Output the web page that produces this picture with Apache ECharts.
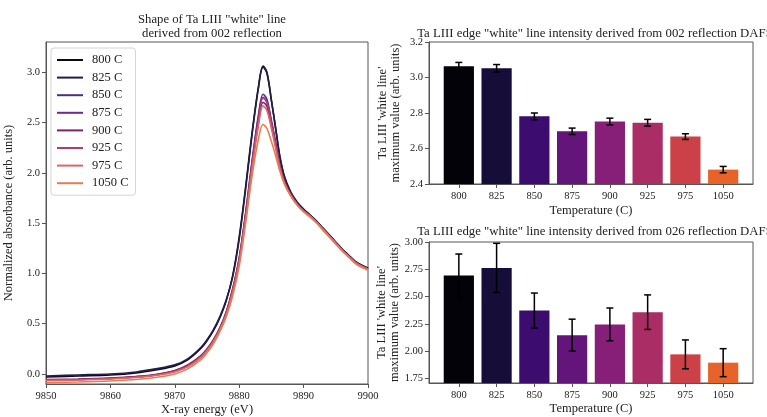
<!DOCTYPE html>
<html>
<head>
<meta charset="utf-8">
<script src="https://cdn.jsdelivr.net/npm/echarts@6/dist/echarts.min.js"></script>
<style>html,body{margin:0;padding:0;background:#fff;}#c{width:767px;height:417px;}</style>
</head>
<body>
<div id="c"></div>
<script>
// ---------- data ----------
const energy = [9850, 9855, 9860, 9864, 9867, 9870, 9872, 9874, 9875, 9876, 9877, 9878, 9879, 9880, 9881, 9882, 9883, 9883.7, 9884.3, 9885, 9885.7, 9886.3, 9887, 9888, 9889, 9890, 9891, 9892, 9893, 9894, 9895, 9896, 9897, 9898, 9899, 9900];
const abs800  = [-0.03,-0.02,-0.01,0.01,0.04,0.08,0.14,0.25,0.33,0.43,0.56,0.73,0.98,1.36,1.86,2.40,2.86,3.06,3.00,2.72,2.42,2.16,1.96,1.80,1.70,1.63,1.58,1.52,1.45,1.38,1.31,1.24,1.18,1.12,1.08,1.05];
const abs825  = [-0.02,-0.01,0.00,0.02,0.05,0.09,0.15,0.26,0.34,0.44,0.57,0.74,0.97,1.34,1.84,2.38,2.85,3.05,2.99,2.72,2.43,2.17,1.97,1.81,1.71,1.64,1.58,1.52,1.45,1.38,1.31,1.24,1.18,1.12,1.08,1.05];
const abs850  = [-0.06,-0.055,-0.045,-0.03,-0.01,0.03,0.08,0.17,0.24,0.33,0.45,0.61,0.84,1.15,1.60,2.12,2.58,2.78,2.73,2.52,2.29,2.08,1.92,1.78,1.69,1.62,1.57,1.51,1.44,1.37,1.30,1.23,1.17,1.11,1.07,1.04];
const abs875  = [-0.06,-0.055,-0.045,-0.03,-0.01,0.03,0.08,0.17,0.24,0.33,0.45,0.60,0.83,1.13,1.57,2.07,2.51,2.70,2.66,2.47,2.25,2.06,1.91,1.78,1.69,1.62,1.57,1.51,1.44,1.37,1.30,1.23,1.17,1.11,1.07,1.04];
const abs900  = [-0.055,-0.05,-0.04,-0.025,-0.005,0.035,0.09,0.18,0.25,0.34,0.46,0.62,0.85,1.15,1.59,2.10,2.55,2.75,2.70,2.50,2.28,2.08,1.92,1.79,1.69,1.62,1.57,1.51,1.44,1.37,1.30,1.23,1.17,1.11,1.07,1.04];
const abs925  = [-0.06,-0.055,-0.045,-0.03,-0.01,0.03,0.08,0.17,0.24,0.33,0.45,0.61,0.84,1.14,1.58,2.09,2.54,2.745,2.70,2.50,2.27,2.07,1.91,1.78,1.69,1.62,1.57,1.51,1.44,1.37,1.30,1.23,1.17,1.11,1.07,1.04];
const abs975  = [-0.065,-0.06,-0.05,-0.035,-0.015,0.02,0.07,0.16,0.23,0.32,0.44,0.59,0.81,1.11,1.54,2.04,2.47,2.665,2.62,2.44,2.23,2.05,1.90,1.77,1.68,1.62,1.57,1.51,1.44,1.37,1.30,1.23,1.17,1.11,1.07,1.04];
const abs1050 = [-0.085,-0.08,-0.07,-0.055,-0.035,0.00,0.05,0.14,0.21,0.30,0.42,0.57,0.78,1.07,1.50,1.97,2.34,2.48,2.44,2.31,2.16,2.02,1.89,1.77,1.68,1.61,1.56,1.50,1.43,1.36,1.29,1.22,1.16,1.10,1.06,1.03];

const lineNames = ['800 C','825 C','850 C','875 C','900 C','925 C','975 C','1050 C'];
const curves = [abs800, abs825, abs850, abs875, abs900, abs925, abs975, abs1050];

const temps   = ['800','825','850','875','900','925','975','1050'];
const wl002   = [3.064, 3.052, 2.781, 2.697, 2.752, 2.745, 2.667, 2.481];
const err002  = [0.021, 0.021, 0.019, 0.018, 0.019, 0.019, 0.016, 0.018];
const wl026   = [2.693, 2.763, 2.373, 2.148, 2.246, 2.358, 1.972, 1.896];
const err026  = [0.197, 0.225, 0.160, 0.146, 0.150, 0.158, 0.132, 0.128];

const xTicksLeft = [9850, 9860, 9870, 9880, 9890, 9900];
const yTicksLeft = [0.0, 0.5, 1.0, 1.5, 2.0, 2.5, 3.0];
const yTicksTop  = [2.4, 2.6, 2.8, 3.0, 3.2];
const yTicksBot  = [1.75, 2.00, 2.25, 2.50, 2.75, 3.00];

// ---------- styles ----------
const lineColors = ['#0a0814','#251d48','#4a2c8c','#6a2c8a','#7e2268','#aa4070','#d8666c','#e67d52'];
const barColors  = ['#030209','#160d38','#3c0c6e','#63157a','#871f79','#aa2e65','#cc4148','#e8632a'];
const FF = 'Liberation Serif';
const spine = '#555';
const tickIdx = temps.map((_, i) => i);

const chart = echarts.init(document.getElementById('c'), null, {renderer: 'canvas'});

function valAxis(extra) {
  return Object.assign({
    type: 'value',
    axisLine: {show: true, onZero: false, lineStyle: {color: spine, width: 1}},
    splitLine: {show: false},
    nameTextStyle: {color: '#222', fontFamily: FF, fontSize: 12.5},
    nameLocation: 'middle'
  }, extra);
}
function ticks(vals) {
  return {show: true, inside: false, length: 4, lineStyle: {color: spine}, customValues: vals};
}
function labels(vals, fmt, margin) {
  return {color: '#222', fontFamily: FF, fontSize: 10.5, margin: margin, customValues: vals, formatter: fmt};
}

const gridW = 767 - 429 - 14;
const xMinB = -0.79, xMaxB = 7.79;
const barPx = 0.8 * gridW / (xMaxB - xMinB);

function errSeries(xi, yi, vals, errs) {
  return {
    type: 'custom', xAxisIndex: xi, yAxisIndex: yi, z: 5,
    encode: {x: 0, y: 1},
    data: vals.map((v, i) => [i, v, errs[i]]),
    renderItem: function (params, api) {
      const x = api.value(0), y = api.value(1), e = api.value(2);
      const t = api.coord([x, y + e]);
      const b = api.coord([x, y - e]);
      const st = {stroke: '#000', lineWidth: 1.5};
      return {type: 'group', children: [
        {type: 'line', shape: {x1: t[0], y1: t[1], x2: b[0], y2: b[1]}, style: st},
        {type: 'line', shape: {x1: t[0] - 3.5, y1: t[1], x2: t[0] + 3.5, y2: t[1]}, style: st},
        {type: 'line', shape: {x1: b[0] - 3.5, y1: b[1], x2: b[0] + 3.5, y2: b[1]}, style: st}
      ]};
    }
  };
}

const series = [];
curves.forEach((c, k) => {
  series.push({
    name: lineNames[k], type: 'line', xAxisIndex: 0, yAxisIndex: 0,
    data: energy.map((e, i) => [e, c[i]]),
    showSymbol: false, symbol: 'none', smooth: 0.35,
    lineStyle: {color: lineColors[k], width: 1.6},
    itemStyle: {color: lineColors[k]},
    clip: true
  });
});
series.push({
  type: 'bar', xAxisIndex: 1, yAxisIndex: 1, barWidth: barPx, clip: true,
  data: wl002.map((v, i) => ({value: [i, v], itemStyle: {color: barColors[i]}}))
});
series.push(errSeries(1, 1, wl002, err002));
series.push({
  type: 'bar', xAxisIndex: 2, yAxisIndex: 2, barWidth: barPx, clip: true,
  data: wl026.map((v, i) => ({value: [i, v], itemStyle: {color: barColors[i]}}))
});
series.push(errSeries(2, 2, wl026, err026));

const titleStyle = {fontFamily: FF, fontSize: 12.7, fontWeight: 'normal', color: '#222'};
const titleStyleR = {fontFamily: FF, fontSize: 12.8, fontWeight: 'normal', color: '#222'};
const gridBase = {show: true, borderColor: spine, borderWidth: 1, backgroundColor: 'transparent', containLabel: false, outerBoundsMode: 'none'};
const option = {
  animation: false,
  backgroundColor: '#fff',
  title: [
    {text: 'Shape of Ta LIII "white" line\nderived from 002 reflection', left: 207, top: 8, textAlign: 'center',
     textStyle: Object.assign({lineHeight: 14}, titleStyle)},
    {text: 'Ta LIII edge "white" line intensity derived from 002 reflection DAFS', left: 590, top: 22, textAlign: 'center',
     textStyle: titleStyleR},
    {text: 'Ta LIII edge "white" line intensity derived from 026 reflection DAFS', left: 590, top: 220, textAlign: 'center',
     textStyle: titleStyleR}
  ],
  legend: {
    data: lineNames, orient: 'vertical', left: 51, top: 48,
    icon: 'path://M0,0 L26,0 L26,2 L0,2 Z', itemWidth: 26, itemHeight: 2, itemGap: 3.6,
    padding: [5, 7, 5, 6],
    backgroundColor: '#fff', borderColor: '#d4d4d4', borderWidth: 1, borderRadius: 3,
    textStyle: {fontFamily: FF, fontSize: 12.5, color: '#222', lineHeight: 14, padding: [0, 0, 0, 4]}
  },
  grid: [
    Object.assign({left: 46, right: 399, top: 42, bottom: 33}, gridBase),
    Object.assign({left: 429, right: 14, top: 42, bottom: 233}, gridBase),
    Object.assign({left: 429, right: 14, top: 242, bottom: 34}, gridBase)
  ],
  xAxis: [
    valAxis({gridIndex: 0, min: 9850, max: 9900, name: 'X-ray energy (eV)', nameGap: 19, nameMoveOverlap: false,
      axisTick: ticks(xTicksLeft), axisLabel: labels(xTicksLeft, v => String(v), 7)}),
    valAxis({gridIndex: 1, min: xMinB, max: xMaxB, name: 'Temperature (C)', nameGap: 20,
      axisTick: ticks(tickIdx), axisLabel: labels(tickIdx, v => temps[Math.round(v)], 7)}),
    valAxis({gridIndex: 2, min: xMinB, max: xMaxB, name: 'Temperature (C)', nameGap: 19,
      axisTick: ticks(tickIdx), axisLabel: labels(tickIdx, v => temps[Math.round(v)], 7)})
  ],
  yAxis: [
    valAxis({gridIndex: 0, min: -0.1, max: 3.3, name: 'Normalized absorbance (arb. units)', nameGap: 31,
      axisTick: ticks(yTicksLeft), axisLabel: labels(yTicksLeft, v => v.toFixed(1), 6)}),
    valAxis({gridIndex: 1, min: 2.4, max: 3.2, name: "Ta LIII 'white line'\nmaximum value (arb. units)", nameGap: 27,
      nameTextStyle: {color: '#222', fontFamily: FF, fontSize: 12.5, lineHeight: 13},
      axisTick: ticks(yTicksTop), axisLabel: labels(yTicksTop, v => v.toFixed(1), 6)}),
    valAxis({gridIndex: 2, min: 1.71, max: 3.0, name: "Ta LIII 'white line'\nmaximum value (arb. units)", nameGap: 27,
      nameTextStyle: {color: '#222', fontFamily: FF, fontSize: 12.5, lineHeight: 13},
      axisTick: ticks(yTicksBot), axisLabel: labels(yTicksBot, v => v.toFixed(2), 6)})
  ],
  series: series
};
chart.setOption(option);
</script>
</body>
</html>
